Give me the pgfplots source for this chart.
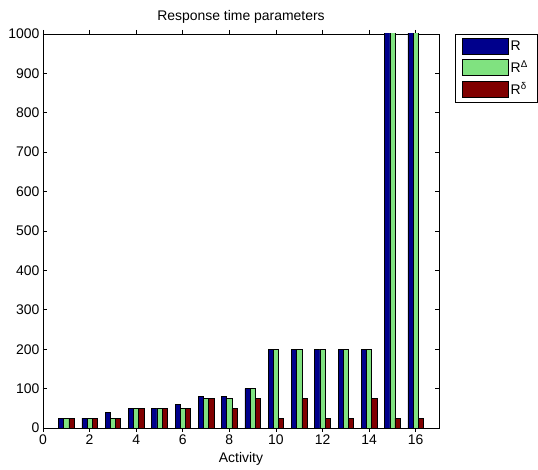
\documentclass[border=0pt]{standalone}
\usepackage{pgfplots}
\pgfplotsset{compat=1.18}
\usepackage{fontspec}
\setmainfont{Liberation Sans}
\definecolor{cR}{RGB}{0,0,140}
\definecolor{cD}{RGB}{128,226,128}
\definecolor{cd}{RGB}{128,0,0}
\begin{document}
\begin{tikzpicture}
\begin{axis}[
  width=396bp, height=394bp, scale only axis,
  xmin=0, xmax=17, ymin=0, ymax=1000,
  xtick={0,2,...,16}, ytick={0,100,...,1000},
  xtick pos=both, ytick pos=both,
  tick align=inside, major tick length=4bp,
  axis line style={line width=0.8bp},
  every tick/.style={black, line width=0.8bp},
  /pgf/number format/assume math mode=true,
  /pgf/number format/1000 sep={},
  tick label style={font=\fontsize{14}{16}\selectfont},
  xticklabel style={yshift=1bp},
  title={Response time parameters},
  title style={font=\fontsize{14}{16}\selectfont, at={(0.5,1)}, anchor=south, yshift=1bp},
  xlabel={Activity},
  xlabel style={font=\fontsize{14}{16}\selectfont, yshift=-1bp},
  ybar, bar width=0.222,
  clip=true,
  legend style={at={(1.04,1)}, anchor=north west, draw=black, line width=0.6bp,
    font=\fontsize{14}{16}\selectfont, row sep=4bp, inner xsep=7bp, inner ysep=4bp},
  legend cell align=left,
  legend image code/.code={\draw[#1, line width=0.6bp] (0bp,-8bp) rectangle (46bp,8bp);},
]
\addplot[fill=cR, draw=black, line width=0.6bp, bar shift=-0.222] coordinates {
 (1,25) (2,25) (3,40) (4,50) (5,50) (6,60) (7,80) (8,80) (9,100) (10,200) (11,200) (12,200) (13,200) (14,200) (15,1200) (16,1200)};
\addplot[fill=cD, draw=black, line width=0.6bp, bar shift=0] coordinates {
 (1,25) (2,25) (3,25) (4,50) (5,50) (6,50) (7,75) (8,75) (9,100) (10,200) (11,200) (12,200) (13,200) (14,200) (15,1200) (16,1200)};
\addplot[fill=cd, draw=black, line width=0.6bp, bar shift=0.222] coordinates {
 (1,25) (2,25) (3,25) (4,50) (5,50) (6,50) (7,75) (8,50) (9,75) (10,25) (11,75) (12,25) (13,25) (14,75) (15,25) (16,25)};
\legend{R, R\textsuperscript{Δ}, R\textsuperscript{δ}}
\end{axis}
\path ([xshift=-43bp,yshift=-42bp]current axis.south west) rectangle ([xshift=99bp,yshift=34bp]current axis.north east);
\end{tikzpicture}
\end{document}
